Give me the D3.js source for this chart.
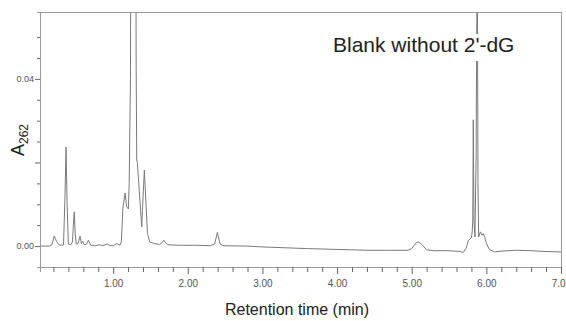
<!DOCTYPE html>
<html>
<head>
<meta charset="utf-8">
<script src="https://cdn.jsdelivr.net/npm/d3@7"></script>
<style>
  html, body { margin: 0; padding: 0; background: #fff; }
  svg { display: block; }
</style>
</head>
<body>
<svg id="chart" width="566" height="321"></svg>
<script>
// Retention time (min) of each trace vertex
const times = [
  0.02, 0.15, 0.18, 0.21, 0.24, 0.27, 0.30, 0.335, 0.355, 0.369, 0.383, 0.40,
  0.43, 0.455, 0.470, 0.480, 0.492, 0.505, 0.53, 0.556, 0.575, 0.59, 0.61, 0.64,
  0.668, 0.70, 0.75, 0.82, 0.86, 0.92, 0.96, 1.00, 1.05, 1.09, 1.11, 1.13, 1.16,
  1.18, 1.204, 1.215, 1.232, 1.272, 1.308, 1.316, 1.324, 1.383, 1.392, 1.418,
  1.44, 1.46, 1.49, 1.55, 1.62, 1.655, 1.68, 1.71, 1.75, 1.9, 2.1, 2.3, 2.36,
  2.397, 2.43, 2.47, 2.8, 3.0, 3.3, 3.6, 4.0, 4.4, 4.7, 4.95, 5.0, 5.06, 5.09,
  5.14, 5.2, 5.3, 5.5, 5.65, 5.69, 5.73, 5.76, 5.80, 5.81, 5.818, 5.825, 5.834,
  5.847, 5.862, 5.878, 5.888, 5.897, 5.92, 5.94, 5.96, 5.98, 6.0, 6.04, 6.11,
  6.2, 6.4, 6.6, 6.8, 7.0
];
// Absorbance at 262 nm for each vertex
const absorbance = [
  0.0000, 0.0000, 0.0003, 0.0024, 0.0012, 0.0004, 0.0002, 0.0003, 0.0120, 0.0237, 0.0100, 0.0005,
  0.0003, 0.0010, 0.0060, 0.0082, 0.0030, 0.0005, 0.0006, 0.0024, 0.0006, 0.0012, 0.0004, 0.0004,
  0.0014, 0.0002, 0.0001, 0.0003, 0.0001, 0.0005, 0.0001, 0.0001, 0.0006, 0.0002, 0.0010, 0.0090, 0.0127,
  0.0095, 0.0089, 0.0150, 0.0400, 0.4000, 0.0440, 0.0206, 0.0200, 0.0046, 0.0085, 0.0182,
  0.0100, 0.0030, 0.0010, 0.0006, 0.0004, 0.0008, 0.0014, 0.0006, 0.0003, 0.0002, 0.0002, 0.0001, 0.0005,
  0.0033, 0.0006, 0.0001, 0.0000, -0.0002, -0.0004, -0.0006, -0.0008, -0.0010, -0.0010, -0.0010, -0.0006, 0.0008, 0.0010,
  0.0003, -0.0009, -0.0011, -0.0011, -0.0013, -0.0015, -0.0005, 0.0014, 0.0020, 0.0034, 0.0060, 0.0302, 0.0060,
  0.0022, 0.0200, 0.0750, 0.0150, 0.0022, 0.0034, 0.0026, 0.0030, 0.0020, 0.0007, -0.0008, -0.0014,
  -0.0012, -0.0010, -0.0011, -0.0013, -0.0014
];

// Axis ticks
const xTicks = d3.range(1, 36).map(i => +(i * 0.2).toFixed(1));
const xLabelled = [1, 2, 3, 4, 5, 6, 7];
const yTicks = d3.range(0, 11).map(i => +(i * 0.005).toFixed(3));
const yLabelled = [0.00, 0.04];
const yMajor = [0.00, 0.02, 0.04];

const title = "Blank without 2'-dG";
const xTitle = "Retention time (min)";

const svg = d3.select("#chart");
const plotLeft = 40, plotRight = 561, plotTop = 12, plotBottom = 267;

const x = d3.scaleLinear().domain([0.02, 7.0]).range([plotLeft, plotRight]);
const y = d3.scaleLinear().domain([-0.005, 0.056]).range([plotBottom, plotTop]);

const axisColor = "#9a9a9a";
const tickFont = "'Liberation Sans Narrow', 'Liberation Sans', Arial, sans-serif";

// clip region for the trace
svg.append("defs").append("clipPath").attr("id", "plotClip")
  .append("rect").attr("x", plotLeft).attr("y", plotTop)
  .attr("width", plotRight - plotLeft).attr("height", plotBottom - plotTop);

const points = times.map((t, i) => [t, absorbance[i]]);
svg.append("path")
  .datum(points)
  .attr("clip-path", "url(#plotClip)")
  .attr("fill", "none")
  .attr("stroke", "#7a7a7a")
  .attr("stroke-width", 1)
  .attr("stroke-linejoin", "round")
  .attr("d", d3.line().x(d => x(d[0])).y(d => y(d[1])));

// frame (top and right edges)
svg.append("line").attr("x1", plotLeft).attr("x2", plotRight)
  .attr("y1", plotTop + 0.5).attr("y2", plotTop + 0.5).attr("stroke", axisColor);
svg.append("line").attr("x1", plotRight + 0.5).attr("x2", plotRight + 0.5)
  .attr("y1", plotTop).attr("y2", plotBottom).attr("stroke", axisColor);

// bottom axis
const isMajorX = v => xLabelled.some(m => Math.abs(m - v) < 1e-6);
const gx = svg.append("g").attr("transform", `translate(0,${plotBottom})`)
  .call(d3.axisBottom(x).tickValues(xTicks).tickSizeOuter(0).tickSize(5)
    .tickFormat(v => isMajorX(v) ? d3.format(".2f")(v) : ""));
gx.select(".domain").attr("stroke", axisColor);
gx.selectAll(".tick line").attr("stroke", "#666").attr("y2", d => isMajorX(d) ? 7 : 5);
gx.selectAll(".tick text")
  .attr("font-family", tickFont).attr("font-size", 10).attr("fill", "#555")
  .attr("y", 13);

// left axis
const isLabelY = v => yLabelled.some(m => Math.abs(m - v) < 1e-6);
const isMajorY = v => yMajor.some(m => Math.abs(m - v) < 1e-6);
const gy = svg.append("g").attr("transform", `translate(${plotLeft},0)`)
  .call(d3.axisLeft(y).tickValues(yTicks).tickSizeOuter(0).tickSize(3)
    .tickFormat(v => isLabelY(v) ? d3.format(".2f")(v) : ""));
gy.select(".domain").attr("stroke", axisColor);
gy.selectAll(".tick line").attr("stroke", "#666").attr("x2", d => isMajorY(d) ? -5 : -3);
gy.selectAll(".tick text")
  .attr("font-family", tickFont).attr("font-size", 9).attr("fill", "#555")
  .attr("x", -6);

// chart title on a white backing
const tg = svg.append("g");
const tText = tg.append("text")
  .attr("x", 333).attr("y", 52)
  .attr("font-family", "'Liberation Sans', Arial, sans-serif")
  .attr("font-size", 21).attr("fill", "#222")
  .text(title);
const bb = tText.node().getBBox();
tg.insert("rect", "text")
  .attr("x", bb.x - 2).attr("y", bb.y + 1).attr("width", bb.width + 4).attr("height", bb.height + 4)
  .attr("fill", "#fff");

// x-axis title
svg.append("text")
  .attr("x", 297).attr("y", 315).attr("text-anchor", "middle")
  .attr("font-family", "'Liberation Sans', Arial, sans-serif")
  .attr("font-size", 16).attr("fill", "#222")
  .text(xTitle);

// y-axis title: A with subscript 262
const yt = svg.append("text")
  .attr("transform", "translate(24,140) rotate(-90)")
  .attr("text-anchor", "middle")
  .attr("font-family", "'Liberation Sans', Arial, sans-serif")
  .attr("fill", "#222");
yt.append("tspan").attr("font-size", 18).text("A");
yt.append("tspan").attr("font-size", 12).attr("dy", 4).text("262");
</script>
</body>
</html>
